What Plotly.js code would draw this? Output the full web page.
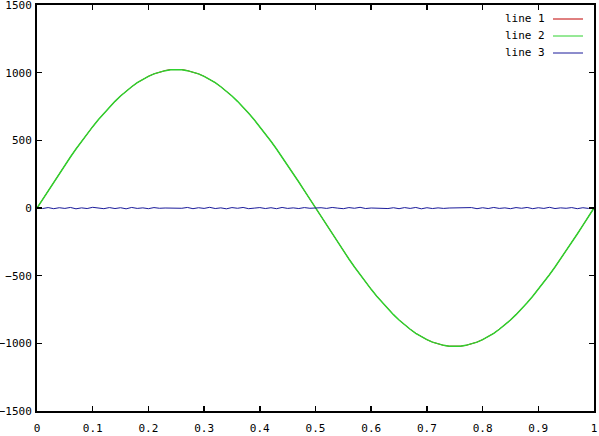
<!DOCTYPE html>
<html>
<head>
<meta charset="utf-8">
<script src="https://cdn.plot.ly/plotly-3.0.1.min.js"></script>
<style>html,body{margin:0;padding:0;background:#fff}#chart{width:599px;height:436px}</style>
</head>
<body>
<div id="chart"></div>
<script>
// x samples
var xs = [0,0.01,0.02,0.03,0.04,0.05,0.06,0.07,0.08,0.09,0.1,0.11,0.12,0.13,0.14,0.15,0.16,0.17,0.18,0.19,0.2,0.21,0.22,0.23,0.24,0.25,0.26,0.27,0.28,0.29,0.3,0.31,0.32,0.33,0.34,0.35,0.36,0.37,0.38,0.39,0.4,0.41,0.42,0.43,0.44,0.45,0.46,0.47,0.48,0.49,0.5,0.51,0.52,0.53,0.54,0.55,0.56,0.57,0.58,0.59,0.6,0.61,0.62,0.63,0.64,0.65,0.66,0.67,0.68,0.69,0.7,0.71,0.72,0.73,0.74,0.75,0.76,0.77,0.78,0.79,0.8,0.81,0.82,0.83,0.84,0.85,0.86,0.87,0.88,0.89,0.9,0.91,0.92,0.93,0.94,0.95,0.96,0.97,0.98,0.99,1];
// line 1 (red, mostly hidden under line 2)
var line1 = [0,64,128,192,254,316,377,436,493,548,601,652,700,746,788,828,864,896,926,951,973,991,1005,1015,1023,1023,1023,1015,1005,991,973,951,926,896,864,828,788,746,700,652,601,548,493,436,377,316,254,192,128,64,0,-64,-128,-192,-254,-316,-377,-436,-493,-548,-601,-652,-700,-746,-788,-828,-864,-896,-926,-951,-973,-991,-1005,-1015,-1021,-1023,-1021,-1015,-1005,-991,-973,-951,-926,-896,-864,-828,-788,-746,-700,-652,-601,-548,-493,-436,-377,-316,-254,-192,-128,-64,0];
// line 2 (green)
var line2 = [0,64,128,192,254,316,377,436,493,548,601,652,700,746,788,828,864,896,926,951,973,991,1005,1015,1021,1023,1021,1015,1005,991,973,951,926,896,864,828,788,746,700,652,601,548,493,436,377,316,254,192,128,64,0,-64,-128,-192,-254,-316,-377,-436,-493,-548,-601,-652,-700,-746,-788,-828,-864,-896,-926,-951,-973,-991,-1005,-1015,-1021,-1023,-1021,-1015,-1005,-991,-973,-951,-926,-896,-864,-828,-788,-746,-700,-652,-601,-548,-493,-436,-377,-316,-254,-192,-128,-64,0];
// line 3 (blue, small residual around zero)
var line3 = [0,-4,3,-5,2,-3,4,-6,1,-4,5,-2,-5,3,-4,2,-6,4,-3,1,-5,3,-2,0,0,0,-2,4,-5,2,-3,5,-4,1,-6,3,-2,4,-5,-1,3,-4,2,-5,4,-3,1,-4,3,-2,0,2,-3,4,-1,-5,3,-2,5,-4,0,0,-1,-4,2,-5,3,-3,4,-6,2,-4,1,-3,0,0,0,-2,3,-5,2,-4,4,-3,1,-5,3,-2,4,-5,2,-3,5,-4,1,-2,3,-5,2,-3,0];

var mono = "DejaVu Sans Mono, Liberation Mono, monospace";
var traces = [
  {x: xs, y: line1, mode: 'lines', name: 'line 1', line: {color: '#c00000', width: 1}},
  {x: xs, y: line2, mode: 'lines', name: 'line 2', line: {color: '#2ed22e', width: 1.5}},
  {x: xs, y: line3, mode: 'lines', name: 'line 3', line: {color: '#1a1a9a', width: 1}}
];
var legendNames = ['line 1', 'line 2', 'line 3'];
var legendColors = ['#c00000', '#2ed22e', '#1a1a9a'];
var annotations = [], shapes = [];
for (var i = 0; i < 3; i++) {
  var yp = 1 - (14 + 17 * i) / 406;
  annotations.push({xref: 'paper', yref: 'paper', x: (547 - 37) / 557, y: yp, xanchor: 'right', yanchor: 'middle',
    text: legendNames[i], showarrow: false, font: {family: mono, size: 11, color: '#000'}});
  shapes.push({type: 'line', xref: 'paper', yref: 'paper', x0: (553 - 37) / 557, x1: (583 - 37) / 557, y0: yp, y1: yp,
    line: {color: legendColors[i], width: 1}});
}
var axisCommon = {
  showline: true, linecolor: '#000', linewidth: 2, mirror: 'ticks',
  ticks: 'inside', ticklen: 5, tickwidth: 1.5, tickcolor: '#000',
  showgrid: false, zeroline: false, ticklabeloverflow: 'allow',
  tickfont: {family: mono, size: 11, color: '#000'}
};
var layout = {
  width: 599, height: 436,
  margin: {l: 37, r: 5, t: 5, b: 25},
  paper_bgcolor: '#fff', plot_bgcolor: '#fff',
  showlegend: false,
  xaxis: Object.assign({}, axisCommon, {range: [0, 1], dtick: 0.1, tick0: 0, ticklabelstandoff: 6}),
  yaxis: Object.assign({}, axisCommon, {range: [-1500, 1500], dtick: 500, tick0: 0, ticklabelstandoff: 1}),
  annotations: annotations,
  shapes: shapes
};
Plotly.newPlot('chart', traces, layout, {displayModeBar: false, staticPlot: true});
</script>
</body>
</html>
